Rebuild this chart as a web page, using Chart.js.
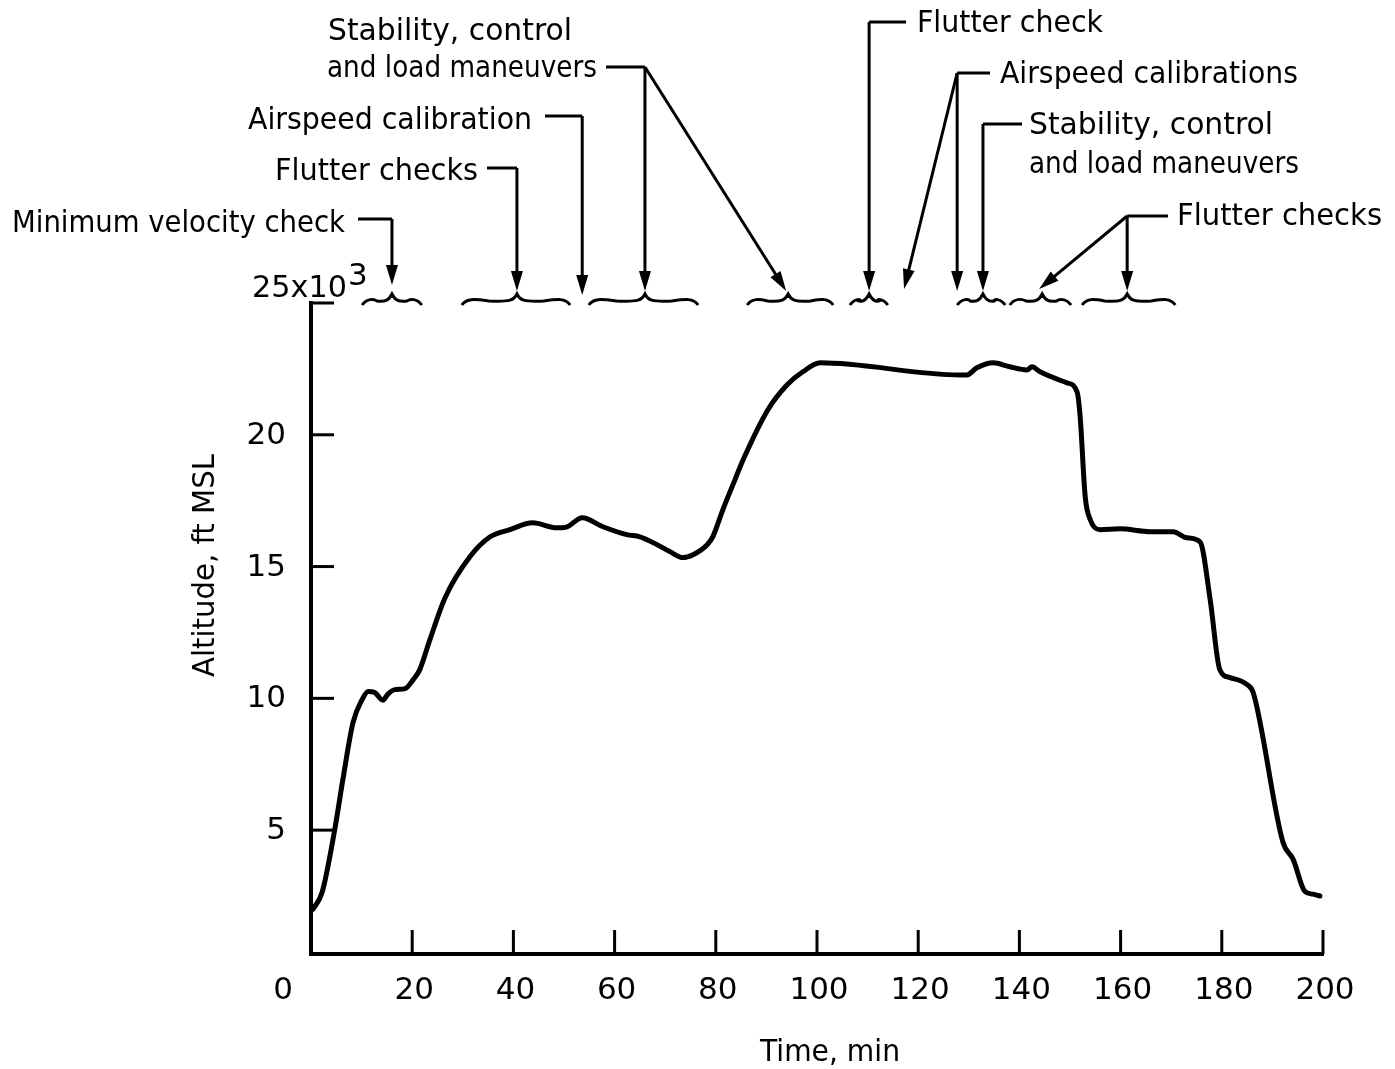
<!DOCTYPE html>
<html>
<head>
<meta charset="utf-8">
<script src="https://cdn.jsdelivr.net/npm/chart.js@4.4.1/dist/chart.umd.min.js"></script>
<style>
  html, body { margin: 0; padding: 0; background: #fff; }
  #wrap { width: 1395px; height: 1069px; }
</style>
</head>
<body>
<div id="wrap"><canvas id="grafico" width="1395" height="1069"></canvas></div>
<script>
// flight time, min
var tempo = [0.4, 2.2, 4.7, 6.3, 8.3, 10.1, 11.3, 12.6, 14.2, 15.2, 16.6, 18.6, 20.2, 21.5, 23.5,
  26.5, 31.4, 35.4, 39.3, 43.8, 48.6, 50.6, 53.6, 57.7, 62.4, 65.0, 68.4, 70.9, 73.5, 75.5,
  78.3, 79.4, 81.4, 83.8, 85.4, 90.3, 94.1, 97.2, 100.6, 128.3, 129.6, 131.6, 134.8, 138.1,
  141.5, 142.5, 144.1, 149.4, 151.4, 152.0, 153.0, 154.0, 155.9, 159.9, 165.8, 170.4, 173.1,
  175.7, 177.7, 179.6, 181.6, 185.0, 186.2, 192.1, 194.1, 196.4, 198.0, 199.4];

// altitude, thousands of ft MSL
var altitude = [2.0, 2.64, 5.03, 6.92, 9.08, 9.95, 10.26, 10.22, 9.93, 10.16, 10.33, 10.37, 10.71, 11.09, 12.23,
  13.82, 15.37, 16.13, 16.4, 16.66, 16.47, 16.51, 16.85, 16.51, 16.21, 16.13, 15.83, 15.57, 15.34, 15.45,
  15.83, 16.13, 17.16, 18.3, 19.05, 20.95, 21.9, 22.39, 22.73, 22.27, 22.27, 22.54, 22.73, 22.58,
  22.46, 22.58, 22.39, 21.97, 21.63, 20.7, 17.66, 16.78, 16.4, 16.43, 16.32, 16.32, 16.09,
  15.94, 13.75, 11.09, 10.79, 10.52, 10.22, 4.53, 3.89, 2.68, 2.57, 2.5];

// tick labels
var xTicks = [0, 20, 40, 60, 80, 100, 120, 140, 160, 180, 200];
var yTicks = [5, 10, 15, 20, 25];

// test-point braces along the top, min
var chaveInicio = [10.1, 29.8, 54.9, 86.2, 106.5, 127.7, 138.1, 152.4];
var chaveFim    = [21.9, 51.2, 76.5, 103.2, 114.0, 137.2, 150.2, 170.8];
var chavePico   = [16.0, 40.7, 66.0, 94.3, 110.3, 132.8, 144.5, 161.3];

var pontos = tempo.map(function(t, i) { return { x: t, y: altitude[i] }; });

// draws axes ticks, labels and the annotations
var anotacoes = {
  id: 'anotacoes',
  afterDraw: function(chart) {
    var ctx = chart.ctx;
    var xs = chart.scales.x, ys = chart.scales.y;
    var area = chart.chartArea;

    function linha(x1, y1, x2, y2) {
      ctx.beginPath(); ctx.moveTo(x1, y1); ctx.lineTo(x2, y2); ctx.stroke();
    }
    function seta(x1, y1, x2, y2) {
      var a = Math.atan2(y2 - y1, x2 - x1), L = 20, W = 6;
      linha(x1, y1, x2 - 10 * Math.cos(a), y2 - 10 * Math.sin(a));
      ctx.beginPath();
      ctx.moveTo(x2, y2);
      ctx.lineTo(x2 - L * Math.cos(a) + W * Math.sin(a), y2 - L * Math.sin(a) - W * Math.cos(a));
      ctx.lineTo(x2 - L * Math.cos(a) - W * Math.sin(a), y2 - L * Math.sin(a) + W * Math.cos(a));
      ctx.closePath(); ctx.fill();
    }
    function texto(str, x, y, w, align) {
      var m = ctx.measureText(str).width;
      ctx.save();
      ctx.translate(x, y);
      ctx.scale(w / m, 1);
      ctx.textAlign = align;
      ctx.fillText(str, 0, 0);
      ctx.restore();
    }
    function chave(x0, x1, xp, yb) {
      ctx.beginPath();
      ctx.moveTo(x0, yb + 3);
      ctx.bezierCurveTo(x0 + 5, yb - 4, x0 + 12, yb - 3, (x0 + xp) / 2, yb - 1);
      ctx.bezierCurveTo(xp - 6, yb, xp - 3, yb - 2, xp, yb - 8);
      ctx.bezierCurveTo(xp + 3, yb - 2, xp + 6, yb, (xp + x1) / 2, yb - 1);
      ctx.bezierCurveTo(x1 - 12, yb - 3, x1 - 5, yb - 4, x1, yb + 3);
      ctx.stroke();
    }

    ctx.save();
    ctx.fillStyle = '#000';
    ctx.strokeStyle = '#000';
    ctx.lineCap = 'butt';

    // inward tick marks
    ctx.lineWidth = 3;
    xTicks.forEach(function(v) {
      if (v === 0) return;
      var px = xs.getPixelForValue(v);
      linha(px, area.bottom, px, area.bottom - 24);
    });
    yTicks.forEach(function(v) {
      var py = ys.getPixelForValue(v);
      linha(area.left, py, area.left + 23, py);
    });

    // tick labels
    ctx.font = '31px "DejaVu Sans"';
    ctx.textBaseline = 'middle';
    ctx.textAlign = 'center';
    xTicks.forEach(function(v) {
      var px = xs.getPixelForValue(v);
      ctx.fillText(String(v), v === 0 ? px - 28 : px + 2, 991);
    });
    ctx.textAlign = 'right';
    yTicks.forEach(function(v) {
      if (v === 25) return;
      ctx.fillText(String(v), area.left - 25, ys.getPixelForValue(v) + 1);
    });
    ctx.textBaseline = 'alphabetic';
    ctx.textAlign = 'left';
    texto('25x10', 252, 297, 95, 'left');
    ctx.fillText('3', 348, 285);

    // axis titles
    ctx.font = '30px "DejaVu Sans"';
    texto('Time, min', 760, 1061, 140, 'left');
    ctx.save();
    ctx.translate(214, 566);
    ctx.rotate(-Math.PI / 2);
    texto('Altitude, ft MSL', -111, 0, 223, 'left');
    ctx.restore();

    // annotation labels
    ctx.font = '31px "DejaVu Sans"';
    texto('Stability, control', 328, 40, 244, 'left');
    texto('and load maneuvers', 327, 77, 270, 'left');
    texto('Airspeed calibration', 248, 129, 284, 'left');
    texto('Flutter checks', 275, 180, 203, 'left');
    texto('Minimum velocity check', 12, 232, 333, 'left');
    texto('Flutter check', 917, 32, 186, 'left');
    texto('Airspeed calibrations', 1000, 83, 298, 'left');
    texto('Stability, control', 1029, 134, 244, 'left');
    texto('and load maneuvers', 1029, 173, 270, 'left');
    texto('Flutter checks', 1177, 225, 205, 'left');

    // braces
    ctx.lineWidth = 3;
    var yb = 302;
    for (var i = 0; i < chaveInicio.length; i++) {
      chave(xs.getPixelForValue(chaveInicio[i]), xs.getPixelForValue(chaveFim[i]),
            xs.getPixelForValue(chavePico[i]), yb);
    }

    // leader lines and arrows
    var ponta = 291;
    var px = function(v) { return xs.getPixelForValue(v); };
    ctx.lineWidth = 3;
    // stability, control (left)
    linha(606, 67, px(chavePico[2]), 67);
    seta(px(chavePico[2]), 67, px(chavePico[2]), ponta);
    seta(px(chavePico[2]), 67, px(chavePico[3]) - 2, ponta);
    // airspeed calibration
    linha(545, 116, px(53.6), 116);
    seta(px(53.6), 116, px(53.6), ponta + 4);
    // flutter checks (left)
    linha(487, 168, px(chavePico[1]), 168);
    seta(px(chavePico[1]), 168, px(chavePico[1]), ponta);
    // minimum velocity check
    linha(358, 219, px(chavePico[0]), 219);
    seta(px(chavePico[0]), 219, px(chavePico[0]), ponta - 6);
    // flutter check (right)
    linha(906, 22, px(chavePico[4]), 22);
    seta(px(chavePico[4]), 22, px(chavePico[4]), ponta);
    // airspeed calibrations
    linha(990, 73, px(chaveInicio[5]), 73);
    seta(px(chaveInicio[5]), 73, px(chaveInicio[5]), ponta);
    seta(px(chaveInicio[5]), 73, px(117.2), ponta - 2);
    // stability, control (right)
    linha(1022, 124, px(chavePico[5]), 124);
    seta(px(chavePico[5]), 124, px(chavePico[5]), ponta);
    // flutter checks (right)
    linha(1168, 216, px(chavePico[7]), 216);
    seta(px(chavePico[7]), 216, px(chavePico[7]), ponta);
    seta(px(chavePico[7]), 216, px(chavePico[6]) - 3, ponta - 2);

    ctx.restore();
  }
};

var grafico = new Chart(document.getElementById('grafico'), {
  type: 'line',
  data: {
    datasets: [{
      label: 'Altitude',
      data: pontos,
      borderColor: '#000',
      borderWidth: 5,
      pointRadius: 0,
      cubicInterpolationMode: 'monotone',
      borderJoinStyle: 'round',
      borderCapStyle: 'round',
      fill: false
    }]
  },
  options: {
    responsive: false,
    animation: false,
    devicePixelRatio: 1,
    layout: { padding: { left: 311, right: 72, top: 303, bottom: 115 } },
    plugins: { legend: { display: false }, tooltip: { enabled: false } },
    scales: {
      x: {
        type: 'linear', min: 0, max: 200,
        ticks: { display: false },
        grid: { display: false, drawTicks: false },
        border: { display: true, color: '#000', width: 4 }
      },
      y: {
        type: 'linear', min: 0.3, max: 25,
        ticks: { display: false },
        grid: { display: false, drawTicks: false },
        border: { display: true, color: '#000', width: 4 }
      }
    }
  },
  plugins: [anotacoes]
});
</script>
</body>
</html>
